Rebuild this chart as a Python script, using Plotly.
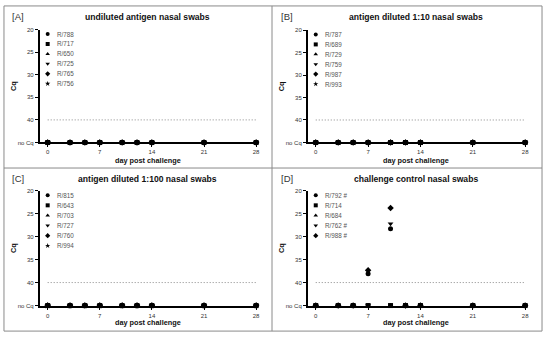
import plotly.graph_objects as go

# ---------------- data ----------------
days = [0, 3, 5, 7, 10, 12, 14, 21, 28]
NO_CQ_POS = 45  # axis position used for "no Cq"

y_tick_vals = [20, 25, 30, 35, 40, 45]
y_tick_text = ["20", "25", "30", "35", "40", "no Cq"]
x_tick_vals = [0, 7, 14, 21, 28]
threshold = 40

titles = ["undiluted antigen nasal swabs", "antigen diluted 1:10 nasal swabs",
          "antigen diluted 1:100 nasal swabs", "challenge control nasal swabs"]
panel_labels = ["[A]", "[B]", "[C]", "[D]"]

animals_A = ["R/788", "R/717", "R/650", "R/725", "R/765", "R/756"]
animals_B = ["R/787", "R/689", "R/729", "R/759", "R/987", "R/993"]
animals_C = ["R/815", "R/643", "R/703", "R/727", "R/760", "R/994"]
animals_D = ["R/792 #", "R/714", "R/684", "R/762 #", "R/988 #"]

N = None  # no Cq detected
cq_A = [
    [N, N, N, N, N, N, N, N, N],
    [N, N, N, N, N, N, N, N, N],
    [N, N, N, N, N, N, N, N, N],
    [N, N, N, N, N, N, N, N, N],
    [N, N, N, N, N, N, N, N, N],
    [N, N, N, N, N, N, N, N, N],
]
cq_B = [
    [N, N, N, N, N, N, N, N, N],
    [N, N, N, N, N, N, N, N, N],
    [N, N, N, N, N, N, N, N, N],
    [N, N, N, N, N, N, N, N, N],
    [N, N, N, N, N, N, N, N, N],
    [N, N, N, N, N, N, N, N, N],
]
cq_C = [
    [N, N, N, N, N, N, N, N, N],
    [N, N, N, N, N, N, N, N, N],
    [N, N, N, N, N, N, N, N, N],
    [N, N, N, N, N, N, N, N, N],
    [N, N, N, N, N, N, N, N, N],
    [N, N, N, N, N, N, N, N, N],
]
cq_D = [
    [N, N, N, 38.1, 28.3, N, N, N, N],
    [N, N, N, N, N, N, N, N, N],
    [N, N, N, N, N, N, N, N, N],
    [N, N, N, N, 27.2, N, N, N, N],
    [N, N, N, 37.3, 23.8, N, N, N, N],
]

panels = [(animals_A, cq_A), (animals_B, cq_B), (animals_C, cq_C), (animals_D, cq_D)]

# ---------------- styling / layout ----------------
W, H = 550, 339
symbols = ["circle", "square", "triangle-up", "triangle-down", "diamond", "star"]
FONT = "Liberation Sans, Arial, sans-serif"

# plot-area pixel boxes: (left, right, top, bottom)
boxes = [(40, 258, 27, 142), (310, 529, 27.5, 142), (40, 258, 191, 308), (310, 529, 191, 308)]
head_y = [14, 14, 179, 179]
label_x = [10, 281, 10, 281]
xtitle_y = [160, 160, 325, 325]
ytitle_x = [13, 283, 13, 283]


def px(x):
    return x / W


def py(y):
    return 1 - y / H


fig = go.Figure()
annotations = []
shapes = []

for i, (animals, cq) in enumerate(panels):
    ax = "" if i == 0 else str(i + 1)
    xref, yref = "x" + ax, "y" + ax
    l, r, t, b = boxes[i]

    for j, (name, vals) in enumerate(zip(animals, cq)):
        yv = [NO_CQ_POS if v is None else v for v in vals]
        fig.add_trace(go.Scatter(
            x=days, y=yv, mode="markers", name=name, showlegend=False,
            marker=dict(symbol=symbols[j], size=5, color="black"),
            cliponaxis=False, xaxis=xref, yaxis=yref))
        # in-plot legend entry
        ly = 21 + 2.2 * j
        fig.add_trace(go.Scatter(
            x=[0], y=[ly], mode="markers", showlegend=False, hoverinfo="skip",
            marker=dict(symbol=symbols[j], size=4, color="black"),
            cliponaxis=False, xaxis=xref, yaxis=yref))
        annotations.append(dict(x=1.0, y=ly, xref=xref, yref=yref, text=name,
                                showarrow=False, xanchor="left", yanchor="middle",
                                font=dict(size=6.3, color="#555", family=FONT)))

    shapes.append(dict(type="line", xref=xref, yref=yref, x0=0, x1=28,
                       y0=threshold, y1=threshold,
                       line=dict(color="#888", width=1, dash="1px,2px")))

    fig.layout["xaxis" + ax] = dict(
        domain=[px(l), px(r)], range=[-1.07, 28], anchor=yref,
        tickvals=x_tick_vals, ticks="outside", ticklen=3, tickwidth=1.2,
        tickcolor="black", showline=True, linecolor="black", linewidth=1.6,
        showgrid=False, zeroline=False,
        tickfont=dict(size=6, color="#333", family=FONT))
    fig.layout["yaxis" + ax] = dict(
        domain=[py(b), py(t)], range=[45, 20], anchor=xref,
        tickvals=y_tick_vals, ticktext=y_tick_text, ticks="outside", ticklen=3,
        tickwidth=1.2, tickcolor="black", showline=True, linecolor="black",
        linewidth=1.6, showgrid=False, zeroline=False,
        tickfont=dict(size=6, color="#333", family=FONT))

    annotations.append(dict(x=px((l + r) / 2), y=py(head_y[i]), xref="paper", yref="paper",
                            text="<b>" + titles[i] + "</b>", showarrow=False,
                            xanchor="center", yanchor="middle",
                            font=dict(size=8.6, color="#111", family=FONT)))
    annotations.append(dict(x=px(label_x[i]), y=py(head_y[i]), xref="paper", yref="paper",
                            text=panel_labels[i], showarrow=False,
                            xanchor="left", yanchor="middle",
                            font=dict(size=9.5, color="#333", family=FONT)))
    annotations.append(dict(x=px((l + r) / 2), y=py(xtitle_y[i]), xref="paper", yref="paper",
                            text="<b>day post challenge</b>", showarrow=False,
                            xanchor="center", yanchor="middle",
                            font=dict(size=7.3, color="#111", family=FONT)))
    annotations.append(dict(x=px(ytitle_x[i]), y=py((t + b) / 2), xref="paper", yref="paper",
                            text="<b>Cq</b>", showarrow=False, textangle=-90,
                            xanchor="center", yanchor="middle",
                            font=dict(size=7.3, color="#111", family=FONT)))

frame = dict(color="#8a8a8a", width=1)
shapes.append(dict(type="rect", xref="paper", yref="paper",
                   x0=px(4), x1=px(546), y0=py(334), y1=py(3), line=frame))
shapes.append(dict(type="line", xref="paper", yref="paper",
                   x0=px(274), x1=px(274), y0=py(334), y1=py(3), line=frame))
shapes.append(dict(type="line", xref="paper", yref="paper",
                   x0=px(4), x1=px(546), y0=py(168), y1=py(168), line=frame))

fig.update_layout(
    width=W, height=H, margin=dict(l=0, r=0, t=0, b=0),
    paper_bgcolor="white", plot_bgcolor="white",
    annotations=annotations, shapes=shapes, showlegend=False,
    font=dict(family=FONT))

fig.write_html("out.html", config={"displayModeBar": False},
               post_script="document.body.style.margin='0';document.body.style.overflow='hidden';")
